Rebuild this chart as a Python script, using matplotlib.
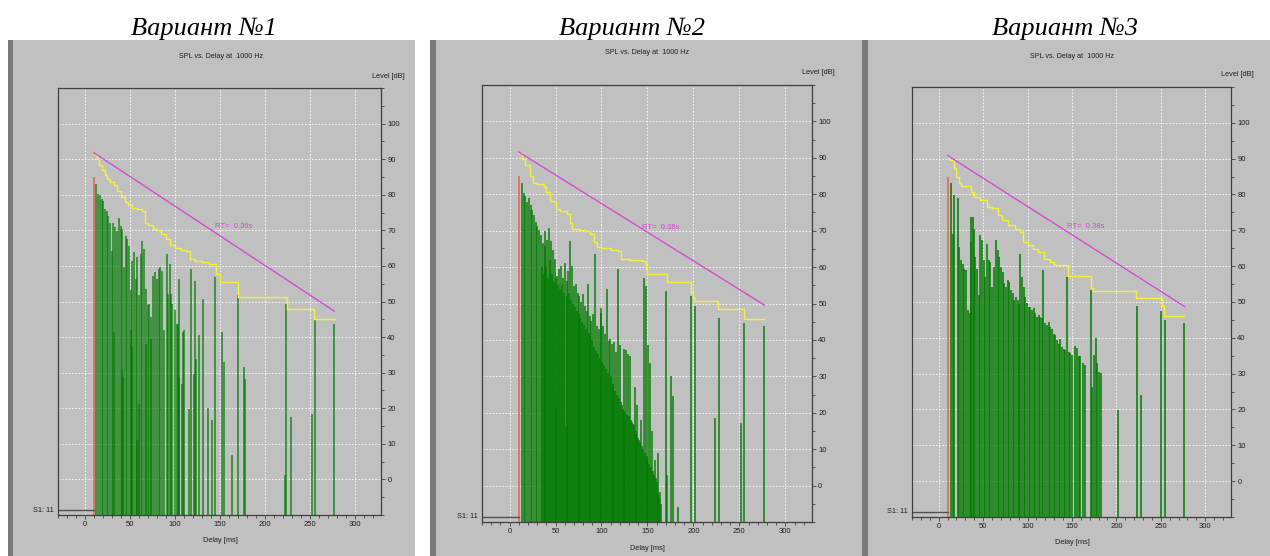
#
# SPL vs. Delay at 1000 Hz - три варианта рефлектограммы
#

import numpy as np
import matplotlib
matplotlib.use('Agg')
import matplotlib.pyplot as plt
from matplotlib.patches import Rectangle
from matplotlib.ticker import MultipleLocator

plt.rcParams['font.family'] = ['Liberation Sans', 'DejaVu Sans']

W, H = 1270, 556

variant_titles = ['Вариант №1', 'Вариант №2', 'Вариант №3']
rt_labels = ['RT=  0.36s', 'RT=  0.38s', 'RT=  0.38s']
delay_ticks = [0, 50, 100, 150, 200, 250, 300]
level_ticks = [0, 10, 20, 30, 40, 50, 60, 70, 80, 90, 100]

# прямой звук (красная линия) и уровень S1
direct_delay = 10
direct_level = 85
s1_level = -8.6

# ---- Вариант 1: отражения ----
refl1_delay = [
    12.6, 14.5, 16.4, 18.6, 20.5, 22.3, 24.2, 26.0, 27.9, 29.7,
    31.2, 32.3, 33.4, 36.0, 37.9, 39.7, 40.6, 41.6, 42.4, 43.4,
    45.3, 47.2, 49.0, 50.6, 50.9, 52.4, 52.7, 54.6, 56.4, 57.9,
    58.3, 59.8, 60.1, 62.0, 63.9, 65.7, 67.3, 67.6, 69.5, 71.3,
    72.9, 73.2, 75.8, 77.7, 79.9, 81.8, 83.6, 85.5, 88.1, 91.1,
    92.6, 94.4, 95.5, 96.7, 100.4, 101.9, 103.0, 104.1, 104.9, 107.8,
    108.6, 109.7, 116.0, 117.9, 121.6, 122.7, 123.4, 126.3, 130.8, 137.1,
    140.8, 144.5, 152.0, 154.2, 163.0, 169.8, 176.5, 177.3, 222.0, 223.0,
    229.3, 252.3, 255.3, 276.9]
refl1_level = [
    83.1, 80.3, 79.8, 78.8, 78.3, 76.0, 75.5, 74.1, 72.2, 64.3,
    72.2, 41.4, 70.8, 69.9, 73.6, 71.3, 31.1, 70.4, 28.8, 59.6,
    68.5, 67.6, 65.7, 41.9, 53.2, 37.2, 61.5, 63.8, 56.3, 11.0,
    62.4, 21.3, 51.8, 63.4, 67.1, 64.8, 38.1, 53.6, 48.9, 49.4,
    39.5, 45.6, 57.3, 58.2, 56.3, 59.1, 59.6, 58.7, 41.9, 63.4,
    52.2, 60.5, 52.0, 49.4, 47.5, 43.8, 43.7, 56.3, 28.8, 26.9,
    41.4, 41.9, 19.9, 59.1, 29.7, 55.8, 33.9, 40.5, 50.7, 20.1,
    16.6, 57.0, 41.4, 33.0, 6.8, 51.7, 31.6, 28.3, 1.2, 49.3,
    17.6, 18.5, 44.7, 43.7]

# ---- Вариант 2: ранние отражения, плотная часть (шаг 1 мс с 36 мс), поздние ----
refl2_early_delay = [13.6, 15.4, 17.3, 19.1, 21.0, 22.8, 24.6, 26.5, 28.3, 30.1, 32.0, 33.8, 35.0]
refl2_early_level = [83.0, 80.3, 79.4, 78.0, 78.9, 77.1, 75.7, 74.4, 72.5, 71.2, 70.3, 68.9, 60.0]
dense2_start = 36
dense2_level = [
    66.6, 58, 65.7, 69.8, 60, 67.5, 57, 70.7, 62, 67.1,
    58, 64.8, 56, 62.1, 21.7, 57, 57.5, 55, 59.4, 54,
    60.3, 55, 57.1, 53, 61.2, 16.2, 56.2, 52, 58.9, 53,
    67.1, 51, 60.3, 50, 54.8, 49, 55.3, 48, 53, 47,
    52.1, 46, 50.3, 45, 52.5, 44, 49.4, 43, 48, 55.3,
    42, 46.6, 41, 45.3, 40, 47.1, 38, 63.5, 37, 43.9,
    36, 43, 35, 48.9, 47.5, 34, 43.9, 33, 41.6, 32,
    53.9, 31, 39.8, 40.3, 30, 38.9, 28, 27, 39.4, 26,
    36.6, 25, 59.4, 24, 38.5, 23, 22, 21, 37.5, 20.5,
    20, 37.1, 19.5, 36.2, 19, 35.7, 18, 17.5, 17, 16.5,
    27, 15, 14, 22, 13, 12.5, 12, 18, 11, 10,
    57.1, 9, 54.8, 8, 7, 38.7, 6, 33.7, 5, 14.9,
    4, 3, 7.1, 2, 1, -2, 8.9, -3, -1.7, -5]
refl2_late_delay = [170.1, 171.2, 175.6, 177.4, 182.8, 197.3, 202.0, 223.8, 227.4, 251.7, 254.6, 276.4]
refl2_late_level = [53.4, 2.9, 30.0, 24.5, -5.8, 52.0, 49.3, 18.5, 46.0, 17.2, 44.7, 43.8]

# ---- Вариант 3: отражения ----
refl3_delay = [
    14.0, 16.3, 17.0, 21.5, 23.4, 25.3, 27.1, 29.0, 30.9, 32.8,
    35.0, 36.0, 36.9, 38.4, 39.5, 41.4, 43.3, 45.1, 47.0, 48.9,
    50.7, 52.6, 54.5, 56.4, 58.2, 60.1, 62.0, 64.6, 66.5, 68.4,
    70.2, 72.1, 74.0, 75.9, 77.7, 79.6, 81.5, 83.4, 85.2, 87.1,
    89.0, 90.5, 92.0, 93.9, 95.7, 97.6, 99.5, 101.4, 103.2, 105.1,
    107.0, 108.9, 110.7, 112.6, 114.5, 116.0, 117.5, 120.1, 122.0, 123.9,
    125.7, 127.6, 129.5, 131.4, 133.2, 135.1, 137.0, 138.9, 140.7, 142.6,
    144.5, 146.4, 148.2, 150.1, 153.1, 155.7, 157.6, 159.5, 162.4, 165.0,
    171.5, 172.5, 174.7, 176.6, 178.5, 180.4, 182.2, 201.7, 223.1, 228.0,
    250.5, 254.2, 276.0]
refl3_level = [
    83.1, 69.1, 79.8, 78.9, 65.4, 61.7, 60.7, 59.3, 58.9, 47.7,
    46.8, 73.8, 66.8, 73.8, 70.5, 62.6, 59.3, 51.9, 68.7, 67.3,
    61.7, 57.0, 66.3, 61.7, 61.2, 54.2, 59.8, 67.3, 64.5, 62.6,
    59.8, 58.4, 55.2, 54.2, 56.1, 55.6, 53.3, 52.4, 50.5, 51.4,
    50.5, 49.5, 63.5, 57.0, 54.2, 51.4, 49.6, 48.7, 48.7, 47.7,
    48.2, 46.8, 45.9, 46.3, 45.9, 45.5, 58.9, 44.0, 43.5, 44.5,
    43.1, 42.6, 41.2, 40.7, 39.3, 38.4, 39.8, 37.5, 37.0, 36.5,
    57.0, 36.1, 35.8, 35.2, 37.6, 37.1, 35.0, 34.8, 32.9, 32.5,
    53.3, 26.4, 35.3, 39.9, 32.9, 30.6, 30.1, 19.9, 48.8, 24.1,
    47.4, 45.1, 44.1]

# ---- кривые спада (жёлтые ступеньки) ----
decay1_delay = [10, 13, 16, 19, 22, 24, 28, 32, 36, 40, 44, 48, 52, 58, 63, 67, 70, 76, 80, 85,
                90, 95, 100, 107, 112, 117, 122, 130, 138, 146, 150, 170, 224, 255, 278]
decay1_level = [91.5, 90, 88.5, 87, 85.5, 84.5, 83.5, 82.8, 81, 79.5, 78, 77, 76.3, 76, 75.5, 72, 71.5, 70.5, 70, 69,
                67.5, 66, 65, 64.5, 64.2, 62, 61.3, 61, 60.5, 57.7, 55.4, 51.4, 48, 45.1, 45.1]
decay2_delay = [10, 13, 17, 22, 26, 30, 37, 40, 44, 50, 55, 62, 66, 68, 75, 82, 88, 92, 95, 100,
                110, 118, 121, 130, 144, 148, 150, 171, 197, 200, 202, 227, 255, 277]
decay2_level = [91.4, 89.7, 88, 85.1, 83, 82.8, 81.9, 80.5, 78.2, 76, 75.5, 74.6, 72, 70.4, 70.2, 70, 69.1, 67, 65.4, 65.2,
                64.8, 64.5, 62.2, 61.9, 61.7, 59.4, 58, 55.8, 53, 51.5, 50.7, 48.6, 45.8, 45.8]
decay3_delay = [10, 12, 17, 20, 23, 25, 36, 40, 47, 54, 60, 67, 71, 78, 86, 91, 95, 100, 106, 112,
                118, 125, 130, 145, 171, 174, 222, 251, 254, 276]
decay3_level = [90.5, 89.6, 87.3, 85, 83.1, 82.3, 80.7, 79.3, 78.4, 76.6, 76.1, 74.2, 72.8, 71.4, 70.5, 69.6, 66.8, 65.9, 64.9, 64,
                62.1, 61.2, 60.3, 57.2, 53.9, 53, 51.1, 48.8, 46, 46]

# ---- линия RT (малиновая) ----
rt1_delay, rt1_level = [10, 277], [91.8, 47.3]
rt2_delay, rt2_level = [10, 277], [91.6, 49.6]
rt3_delay, rt3_level = [10, 277], [90.9, 48.7]
rt_text_pos = (144, 71)

GRAY = '#c0c0c0'
GREEN = '#007a00'
MAGENTA = '#d448d4'


def fx(x):
    return x / W


def fy(y):
    return 1 - y / H


def draw_panel(fig, lay, title, refl_delay, refl_level, bar_px, bar_alpha,
               decay_delay, decay_level, rt_delay, rt_level, rt_text):
    # фон окна программы
    l, t, r, b = lay['bg']
    fig.add_artist(Rectangle((fx(l), fy(b)), fx(r - l), (b - t) / H, transform=fig.transFigure,
                             facecolor=GRAY, edgecolor='none', zorder=-2))
    s0, s1 = lay['strip']
    fig.add_artist(Rectangle((fx(s0), fy(b)), fx(s1 - s0), (b - t) / H, transform=fig.transFigure,
                             facecolor='#7a7a7a', edgecolor='none', zorder=-1))

    fig.text(fx(lay['title_x']), fy(35), title, family='Liberation Serif', style='italic',
             fontsize=19, ha='center', va='baseline')
    fig.text(fx(lay['spl'][0]), fy(lay['spl'][1]), 'SPL vs. Delay at  1000 Hz',
             fontsize=5.2, ha='center', va='center', color='#202020')
    fig.text(fx(lay['level'][0]), fy(lay['level'][1]), 'Level [dB]',
             fontsize=5.3, ha='right', va='center', color='#202020')
    fig.text(fx(lay['delay'][0]), fy(lay['delay'][1]), 'Delay [ms]',
             fontsize=5.3, ha='center', va='center', color='#202020')

    l, t, r, b = lay['ax']
    ax = fig.add_axes([fx(l), fy(b), fx(r - l), (b - t) / H])
    ax.set_facecolor(GRAY)
    ax.set_xlim(-30, 329)
    ax.set_ylim(-10, 110)
    ax.set_axisbelow(True)
    ax.grid(True, color='white', linestyle=(0, (2, 2)), linewidth=0.6)

    # отражения
    ax.vlines(refl_delay, -10, refl_level, colors=GREEN, linewidth=bar_px * 0.72, alpha=bar_alpha)
    # прямой звук
    ax.vlines(direct_delay, -10, direct_level, colors='#e3705e', linewidth=1.3)
    ax.plot([-30, direct_delay], [s1_level, s1_level], color='#505050', lw=1.0)
    ax.text(-0.012, s1_level, 'S1: 11', transform=ax.get_yaxis_transform(),
            ha='right', va='center', fontsize=5.3, color='#202020')
    # кривая спада и RT
    ax.plot(decay_delay, decay_level, drawstyle='steps-post', color='#f2f23e', lw=1.05)
    ax.plot(rt_delay, rt_level, color=MAGENTA, lw=0.95)
    ax.text(rt_text_pos[0], rt_text_pos[1], rt_text, color=MAGENTA, fontsize=5.5, va='center')

    ax.set_xticks(delay_ticks)
    ax.set_yticks(level_ticks)
    ax.xaxis.set_minor_locator(MultipleLocator(10))
    ax.yaxis.set_minor_locator(MultipleLocator(5))
    ax.yaxis.tick_right()
    ax.tick_params(which='both', direction='out', color='#404040', labelsize=5.5,
                   labelcolor='#202020', pad=1.5, width=0.6)
    ax.tick_params(which='major', length=3)
    ax.tick_params(which='minor', length=2)
    for sp in ax.spines.values():
        sp.set_color('#404040')
        sp.set_linewidth(0.9)
    return ax


def main():
    fig = plt.figure(figsize=(W / 100, H / 100), dpi=100)
    fig.patch.set_facecolor('white')

    layouts = [
        dict(bg=(8, 40, 415, 556), strip=(8, 13), ax=(58, 88, 381, 515), title_x=204,
             spl=(221, 57), level=(405, 76), delay=(220, 541)),
        dict(bg=(430, 40, 848, 556), strip=(430, 436), ax=(482, 85, 812, 522), title_x=632,
             spl=(647, 53), level=(835, 73), delay=(647, 548)),
        dict(bg=(848, 40, 1270, 556), strip=(862, 868), ax=(912, 87, 1231, 517), title_x=1065,
             spl=(1072, 56), level=(1254, 74), delay=(1072, 543)),
    ]

    dense2_delay = dense2_start + np.arange(len(dense2_level))
    refl2_delay = list(refl2_early_delay) + list(dense2_delay) + list(refl2_late_delay)
    refl2_level = refl2_early_level + dense2_level + refl2_late_level

    draw_panel(fig, layouts[0], variant_titles[0], refl1_delay, refl1_level, 1.6, 0.8,
               decay1_delay, decay1_level, rt1_delay, rt1_level, rt_labels[0])
    draw_panel(fig, layouts[1], variant_titles[1], refl2_delay, refl2_level, 1.5, 0.95,
               decay2_delay, decay2_level, rt2_delay, rt2_level, rt_labels[1])
    draw_panel(fig, layouts[2], variant_titles[2], refl3_delay, refl3_level, 1.6, 0.95,
               decay3_delay, decay3_level, rt3_delay, rt3_level, rt_labels[2])

    fig.savefig('out.png', dpi=100, facecolor='white')


if __name__ == "__main__":
    main()
